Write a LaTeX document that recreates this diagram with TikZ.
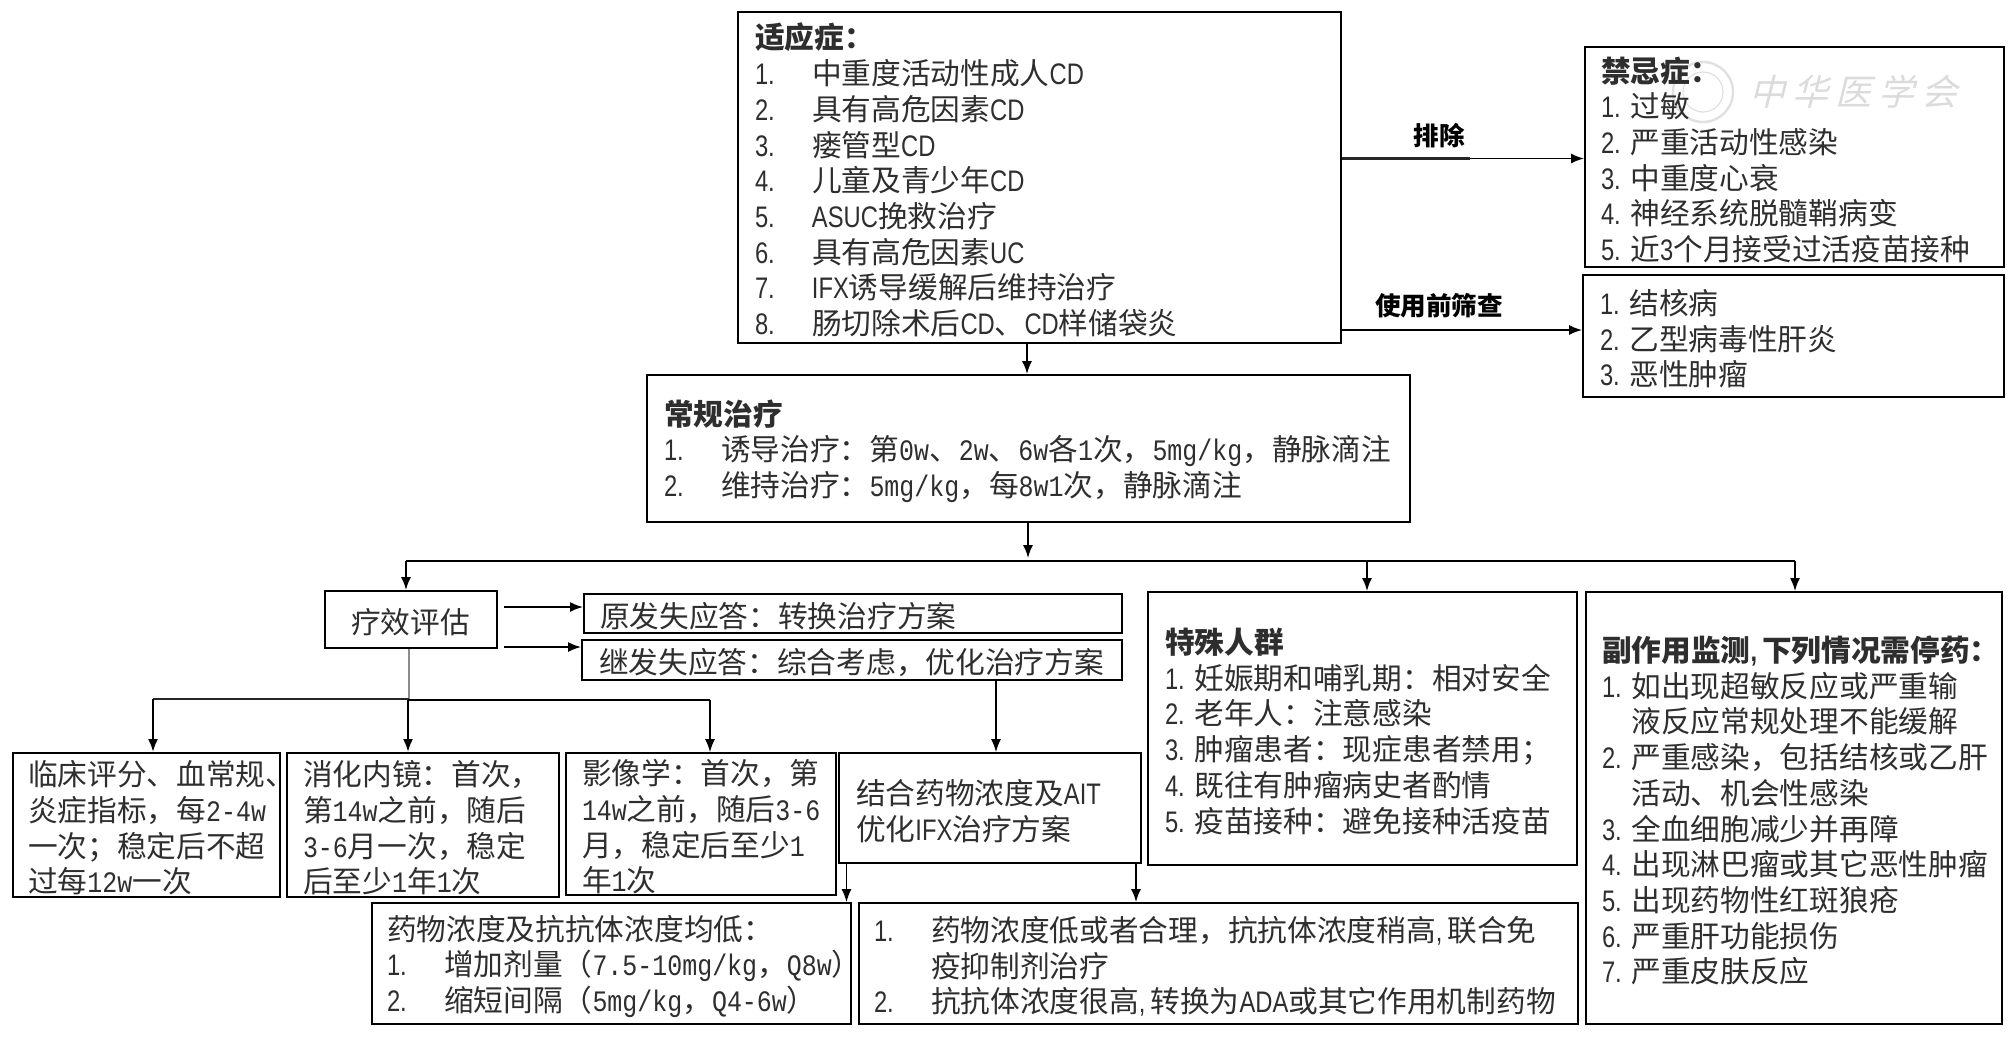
\documentclass[tikz,border=0pt]{standalone}
\usepackage{fontspec}
\usetikzlibrary{arrows.meta,calc}
\setmainfont{Noto Sans CJK SC}
\newfontfamily\latf{Liberation Sans}[FakeStretch=0.8]
\newfontfamily\monf{Liberation Mono}[FakeStretch=0.84]
\newcommand\la[1]{{\latf #1}}
\newcommand\lm[1]{\mbox{\monf #1}}
\definecolor{ink}{gray}{0.18}
\newcommand\nm[2]{\makebox[#1][l]{\la{#2}}}
\newcommand\na[1]{\nm{28.5pt}{#1}}
\newcommand\nb[1]{\nm{14.7pt}{#1}}
\tikzset{
  x=0.5pt,y=-0.5pt,
  boxstyle/.style={draw=black,line width=1pt,inner ysep=0pt,align=left,text=ink,
     font=\fontsize{14.85}{17.85}\selectfont},
  lab/.style={font=\bfseries\fontsize{12.8}{16}\selectfont,inner sep=0pt,text=black},
  arr/.style={draw=black,line width=0.8pt,-{Latex[length=6.5pt,width=5pt]}},
  plain/.style={draw=black,line width=0.8pt},
  thickline/.style={draw=black!85,line width=1.2pt},
  fadeline/.style={draw=black!45,line width=0.8pt},
}
% name, x1,y1,x2,y2, inset, text
\newcommand\bx[7]{%
  \pgfmathsetlengthmacro\bxw{(#4-#2)*0.5pt}%
  \pgfmathsetlengthmacro\bxh{(#5-#3)*0.5pt}%
  \pgfmathsetlengthmacro\bxi{#6*0.5pt}%
  \pgfmathsetlengthmacro\bxt{(#4-#2-2*#6)*0.5pt}%
  \node[boxstyle,minimum width=\bxw,minimum height=\bxh,inner xsep=\bxi,text width=\bxt] (#1) at ({(#2+#4)/2},{(#3+#5)/2}) {\rule{0pt}{15.5pt}#7};%
}
\begin{document}
\begin{tikzpicture}
\useasboundingbox (0,0) rectangle (2015,1046);
% watermark
\node[draw=black!12,line width=1.2pt,circle,minimum size=30pt,inner sep=0pt] (seal) at (1703,92) {};
\node[draw=black!12,line width=0.6pt,circle,minimum size=20pt,inner sep=0pt] (sealin) at (1703,92) {};
\node[text=black!14,font=\fontsize{18}{18}\selectfont,inner sep=0pt,xslant=0.25] (wm) at (1857,92) {中\hspace{3.5pt}华\hspace{3.5pt}医\hspace{3.5pt}学\hspace{3.5pt}会};

\bx{ind}{738}{12}{1341}{343}{17}{\textbf{适应症：}\\
\na{1.}中重度活动性成人\la{CD}\\
\na{2.}具有高危因素\la{CD}\\
\na{3.}瘘管型\la{CD}\\
\na{4.}儿童及青少年\la{CD}\\
\na{5.}\la{ASUC}挽救治疗\\
\na{6.}具有高危因素\la{UC}\\
\na{7.}\la{IFX}诱导缓解后维持治疗\\
\na{8.}肠切除术后\la{CD}、\la{CD}样储袋炎}

\bx{contra}{1585}{47}{2004}{267}{16}{\textbf{禁忌症：}\\
\nb{1.}过敏\\
\nb{2.}严重活动性感染\\
\nb{3.}中重度心衰\\
\nb{4.}神经系统脱髓鞘病变\\
\nb{5.}近\la{3}个月接受过活疫苗接种}

\bx{screen}{1583}{275}{2004}{397}{17}{\nb{1.}结核病\\
\nb{2.}乙型病毒性肝炎\\
\nb{3.}恶性肿瘤}

\bx{routine}{647}{375}{1410}{522}{17}{\textbf{常规治疗}\\
\na{1.}诱导治疗：第\lm{0w}、\lm{2w}、\lm{6w}各\lm{1}次，\lm{5mg/kg}，静脉滴注\\
\na{2.}维持治疗：\lm{5mg/kg}，每\lm{8w1}次，静脉滴注}

\bx{eval}{325}{591}{497}{648}{26}{疗效评估}
\bx{prim}{584}{594}{1122}{633}{16}{原发失应答：转换治疗方案}
\bx{sec}{582}{640}{1122}{680}{17}{继发失应答：综合考虑，优化治疗方案}

\bx{clin}{13}{753}{280}{897}{15}{临床评分、血常规、\\
炎症指标，每\lm{2-4w}\\
一次；稳定后不超\\
过每\lm{12w}一次}
\bx{endo}{287}{753}{559}{897}{16}{消化内镜：首次，\\
第\lm{14w}之前，随后\\
\lm{3-6}月一次，稳定\\
后至少\lm{1}年\lm{1}次}
\bx{imag}{566}{753}{836}{895}{16}{影像学：首次，第\\
\lm{14w}之前，随后\lm{3-6}\\
月，稳定后至少\lm{1}\\
年\lm{1}次}
\bx{ait}{839}{753}{1141}{863}{17}{结合药物浓度及\la{AIT}\\
优化\la{IFX}治疗方案}

\bx{low}{372}{903}{851}{1024}{15}{药物浓度及抗抗体浓度均低：\\
\na{1.}增加剂量（\lm{7.5-10mg/kg}，\lm{Q8w}）\\
\na{2.}缩短间隔（\lm{5mg/kg}，\lm{Q4-6w}）}
\bx{high}{859}{903}{1578}{1024}{15}{\na{1.}药物浓度低或者合理，抗抗体浓度稍高\la{,}\,联合免\\
\na{}疫抑制剂治疗\\
\na{2.}抗抗体浓度很高\la{,}\,转换为\la{ADA}或其它作用机制药物}

\bx{spec}{1148}{592}{1577}{865}{17}{\textbf{特殊人群}\\
\nb{1.}妊娠期和哺乳期：相对安全\\
\nb{2.}老年人：注意感染\\
\nb{3.}肿瘤患者：现症患者禁用；\\
\nb{4.}既往有肿瘤病史者酌情\\
\nb{5.}疫苗接种：避免接种活疫苗}

\bx{adv}{1586}{592}{2002}{1024}{16}{\textbf{副作用监测\la{,}\,下列情况需停药：}\\
\nb{1.}如出现超敏反应或严重输\\
\nb{}液反应常规处理不能缓解\\
\nb{2.}严重感染，包括结核或乙肝\\
\nb{}活动、机会性感染\\
\nb{3.}全血细胞减少并再障\\
\nb{4.}出现淋巴瘤或其它恶性肿瘤\\
\nb{5.}出现药物性红斑狼疮\\
\nb{6.}严重肝功能损伤\\
\nb{7.}严重皮肤反应}

% edge labels
\node[lab] (lex) at (1439,136) {排除};
\node[lab] (lsc) at (1439,306) {使用前筛查};

% connector coordinates
\coordinate (indout) at (1027,343);
\coordinate (exitY) at (0,158.5);
\coordinate (exitMid) at (1470,158.5);
\coordinate (scrY) at (0,330);
\coordinate (busin) at (1028,558);
\coordinate (busL) at (406,561);
\coordinate (busM) at (1367,561);
\coordinate (busR) at (1795,561);
\coordinate (priY) at (0,607);
\coordinate (secY) at (0,647);
\coordinate (evalOutX) at (504,0);
\coordinate (evalstem) at (409,699);
\coordinate (armL) at (153,699);
\coordinate (armM) at (408,700);
\coordinate (armR) at (710,700);
\coordinate (secdown) at (996,680);
\coordinate (aitL) at (846.5,863);
\coordinate (aitR) at (1136,863);

\draw[arr] (indout) -- (indout |- routine.north);
\draw[arr] (ind.east |- exitY) -- (contra.west |- exitY);
\draw[thickline] (ind.east |- exitY) -- (exitMid);
\draw[arr,line width=0.7pt] (ind.east |- scrY) -- (screen.west |- scrY);

\draw[arr] (busin |- routine.south) -- (busin);
\draw[plain] (busL) -- (busR);
\draw[arr] (busL) -- (busL |- eval.north);
\draw[arr] (busM) -- (busM |- spec.north);
\draw[arr] (busR) -- (busR |- adv.north);

\draw[arr] (evalOutX |- priY) -- (prim.west |- priY);
\draw[arr] (evalOutX |- secY) -- (sec.west |- secY);

\draw[fadeline] (evalstem |- eval.south) -- (evalstem);
\draw[thickline] (armL) -- (evalstem);
\draw[plain] (armM) -- (armR);
\draw[arr,line width=1.1pt] (armL) -- (armL |- clin.north);
\draw[arr,line width=1.1pt] (armM) -- (armM |- endo.north);
\draw[arr,line width=0.6pt] (armR) -- (armR |- imag.north);

\draw[arr,line width=0.6pt] (secdown |- sec.south) -- (secdown |- ait.north);
\draw[arr,line width=0.6pt] (aitL |- ait.south) -- (aitL |- low.north);
\draw[arr] (aitR |- ait.south) -- (aitR |- high.north);
\end{tikzpicture}
\end{document}
